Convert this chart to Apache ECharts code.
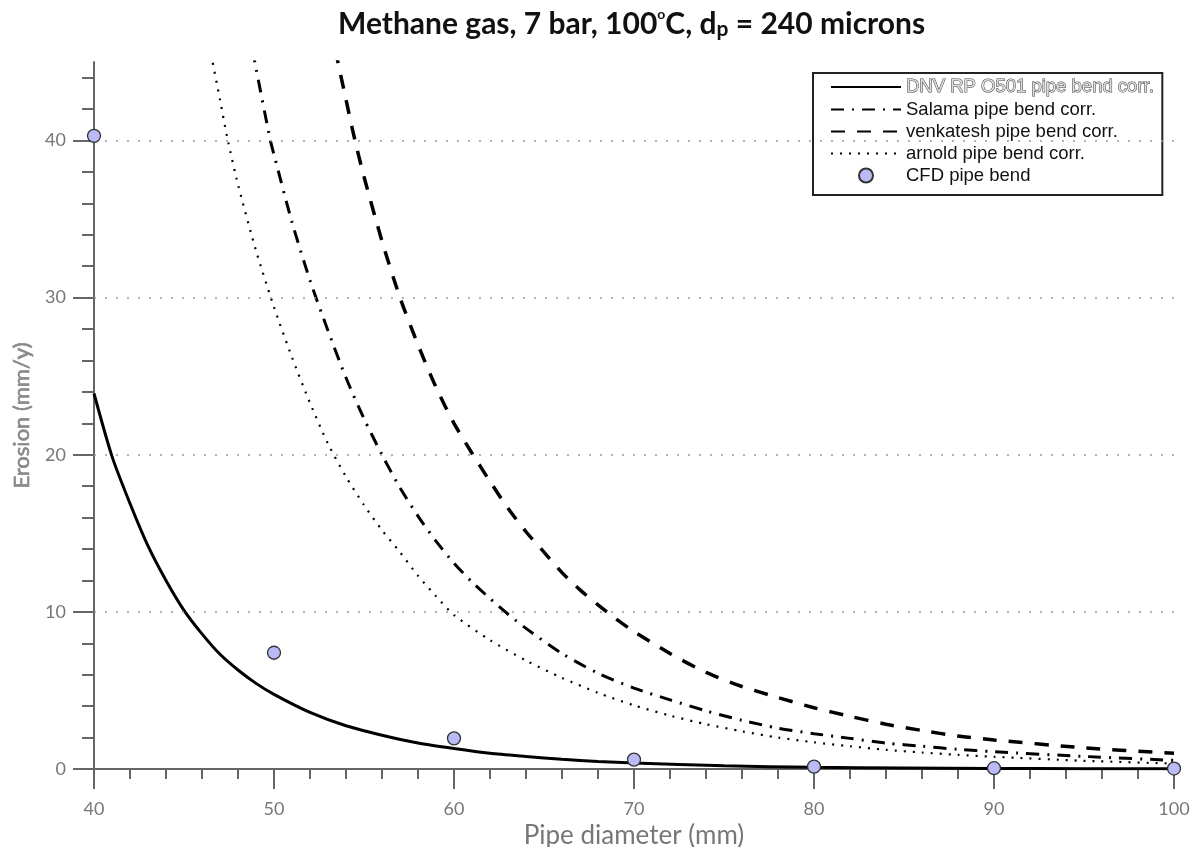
<!DOCTYPE html>
<html>
<head>
<meta charset="utf-8">
<script src="https://cdn.jsdelivr.net/npm/echarts@6/dist/echarts.min.js"></script>
<style>html,body{margin:0;padding:0;background:#fff;}#c{width:1192px;height:847px;}</style>
</head>
<body>
<div id="c"></div>
<script>
// ---- data ----
const seriesNames = ['DNV RP O501 pipe bend corr.', 'Salama pipe bend corr.', 'venkatesh pipe bend corr.', 'arnold pipe bend corr.', 'CFD pipe bend'];
const xTickLabels = [40, 50, 60, 70, 80, 90, 100];
const yTickLabels = [0, 10, 20, 30, 40];
const yMinorTicks = [2, 4, 6, 8, 12, 14, 16, 18, 22, 24, 26, 28, 32, 34, 36, 38, 42, 44];

const dnv = [[40,23.9],[41,19.9],[42,16.9],[43,14.2],[44,12.0],[45,10.1],[46,8.6],[47,7.3],[48,6.3],[49,5.45],[50,4.75],[52,3.6],[54,2.75],[56,2.15],[58,1.65],[60,1.3],[62,1.0],[64,0.8],[66,0.62],[68,0.48],[70,0.38],[75,0.2],[80,0.11],[85,0.06],[90,0.03],[95,0.02],[100,0.01]];
const salama = [[48.8,45.8],[49,44.6],[49.8,40],[50,39.1],[51,34.8],[52,31.1],[53,27.9],[54,24.9],[55,22.3],[56,20.0],[57,17.9],[58,16.1],[59,14.5],[60,13.1],[61,11.9],[62,10.85],[63,9.85],[64,8.95],[66,7.35],[68,6.1],[70,5.15],[72,4.4],[74,3.7],[76,3.1],[78,2.6],[80,2.25],[82,1.95],[84,1.65],[86,1.45],[88,1.25],[90,1.1],[95,0.8],[100,0.55]];
const venkatesh = [[53.4,45.8],[54,42.6],[54.5,40],[55,37.7],[56,33.6],[57,30.0],[58,27.0],[59,24.3],[60,22.0],[61,20.1],[62,18.3],[63,16.6],[64,15.1],[65,13.8],[66,12.5],[67,11.4],[68,10.45],[69,9.55],[70,8.75],[72,7.35],[74,6.15],[76,5.25],[78,4.55],[80,3.9],[82,3.35],[84,2.85],[86,2.45],[88,2.1],[90,1.85],[95,1.35],[100,1.0]];
const arnold = [[46.5,45.5],[47,42.6],[47.4,40.2],[48,37.2],[49,33.0],[50,29.4],[51,26.2],[52,23.3],[53,20.7],[54,18.6],[55,16.8],[56,15.2],[57,13.8],[58,12.3],[59,11.0],[60,9.8],[62,8.2],[64,6.9],[66,5.8],[68,4.85],[70,4.05],[72,3.4],[74,2.85],[76,2.4],[78,2.0],[80,1.7],[82,1.45],[84,1.22],[86,1.05],[88,0.9],[90,0.78],[95,0.52],[100,0.35]];
const cfd = [[40,40.3],[50,7.4],[60,1.95],[70,0.6],[80,0.15],[90,0.05],[100,0.03]];
const gridValues = [10, 20, 30, 40];

const FONT = 'Lato, "Liberation Sans", sans-serif';
const LFONT = '"Liberation Sans", Arial, sans-serif';
const AX = '#666';
const chart = echarts.init(document.getElementById('c'), null, {renderer: 'canvas'});

const lineBase = (name, data, type, width) => ({
  name, type: 'line', data, symbol: 'none', smooth: 0.25,
  lineStyle: {color: '#000', width, type}, itemStyle: {color: '#000'},
  xAxisIndex: 0, yAxisIndex: 0, z: 3, animation: false
});

const hideSym = {opacity: 0};

const option = {
  animation: false,
  backgroundColor: '#fff',
  title: {
    left: 333, top: 2,
    text: '{a|Methane gas, 7 bar, 100}{sup|o}{a|C, d}{sub|p}{a| = 240 microns}',
    textStyle: {
      rich: {
        a: {fontFamily: FONT, fontSize: 30, fontWeight: 'bold', color: '#111', padding: [0,0,10,0]},
        sup: {fontFamily: FONT, fontSize: 14, color: '#111', padding: [0,0,30,0]},
        sub: {fontFamily: FONT, fontSize: 21, fontWeight: 'bold', color: '#111', padding: [0,0,0,0]}
      }
    }
  },
  legend: {
    orient: 'vertical', left: 813, top: 73,
    padding: [4, 8, 10, 17], itemGap: 3, itemWidth: 70, itemHeight: 14,
    backgroundColor: '#fff', borderColor: '#222', borderWidth: 2,
    textStyle: {fontFamily: LFONT, fontSize: 18.5, lineHeight: 18, color: '#111'},
    data: [
      {name: seriesNames[0], itemStyle: hideSym, textStyle: {color: '#ddd', textBorderColor: '#444', textBorderWidth: 1}},
      {name: seriesNames[1], itemStyle: hideSym},
      {name: seriesNames[2], itemStyle: hideSym},
      {name: seriesNames[3], itemStyle: hideSym},
      {name: seriesNames[4]}
    ]
  },
  grid: {left: 94, right: 18, top: 62, bottom: 78, containLabel: false, outerBoundsMode: 'none'},
  xAxis: {
    type: 'value', min: 40, max: 100, interval: 10,
    name: 'Pipe diameter (mm)', nameLocation: 'middle', nameGap: 50,
    nameTextStyle: {fontFamily: FONT, fontSize: 26, color: '#777'},
    axisLine: {show: true, lineStyle: {color: AX, width: 2}},
    axisTick: {show: true, length: 20, lineStyle: {color: AX, width: 2}},
    minorTick: {show: true, splitNumber: 5, length: 10, lineStyle: {color: AX, width: 2}},
    axisLabel: {margin: 31, fontFamily: FONT, fontSize: 18, color: '#777',
      customValues: xTickLabels},
    splitLine: {show: false}
  },
  yAxis: [
    {
      type: 'value', min: 0, max: 45, interval: 10,
      name: 'Erosion (mm/y)', nameLocation: 'middle', nameGap: 61, nameRotate: 90,
      nameTextStyle: {fontFamily: FONT, fontSize: 22, color: '#8a8a8a', textBorderColor: '#666', textBorderWidth: 0.5},
      axisLine: {show: true, lineStyle: {color: AX, width: 2}},
      axisTick: {show: true, length: 21, lineStyle: {color: AX, width: 2}, customValues: yTickLabels},
      axisLabel: {margin: 28, fontFamily: FONT, fontSize: 18, color: '#777', customValues: yTickLabels},
      splitLine: {show: false}
    },
    {
      type: 'value', min: 0, max: 45, interval: 2, position: 'left',
      axisLine: {show: false},
      axisTick: {show: true, length: 12, lineStyle: {color: AX, width: 2}, customValues: yMinorTicks},
      axisLabel: {show: false},
      splitLine: {show: false}
    }
  ],
  series: [
    Object.assign(lineBase(seriesNames[0], dnv, 'solid', 3), {
      markLine: {
        silent: true, symbol: 'none', label: {show: false}, animation: false,
        lineStyle: {color: '#999', width: 1.6, type: [2, 9]},
        data: gridValues.map(v => ({yAxis: v}))
      }
    }),
    lineBase(seriesNames[1], salama, [13, 8, 2, 8], 3),
    lineBase(seriesNames[2], venkatesh, [14, 12], 3.5),
    lineBase(seriesNames[3], arnold, [2, 7], 2.2),
    {
      name: seriesNames[4], type: 'scatter', data: cfd, symbol: 'circle', symbolSize: 13,
      itemStyle: {color: '#babaf6', borderColor: '#333', borderWidth: 1.3, opacity: 1},
      z: 5, clip: false, animation: false
    }
  ]
};
chart.setOption(option);
</script>
</body>
</html>
